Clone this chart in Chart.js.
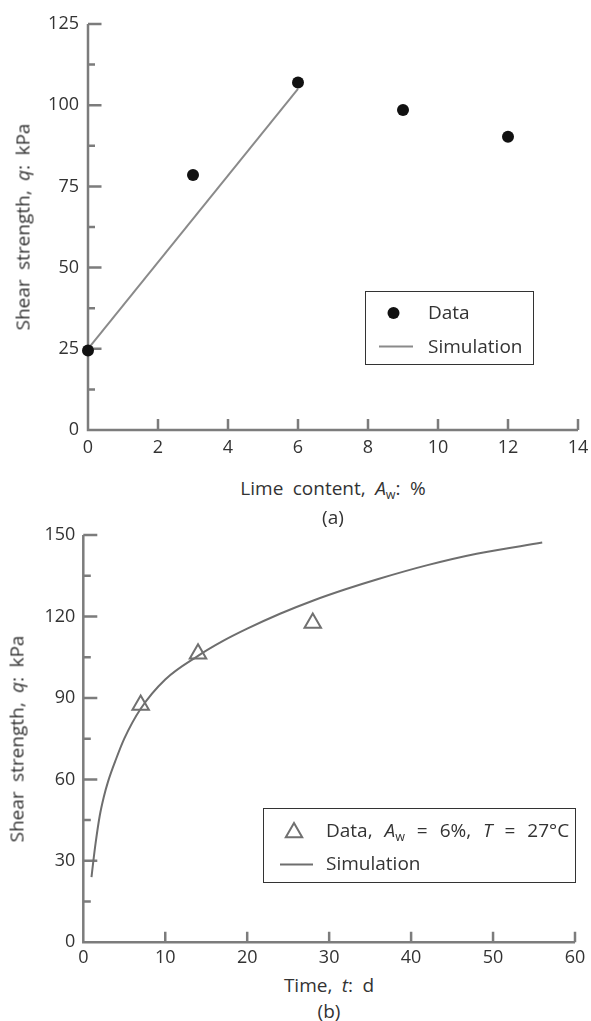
<!DOCTYPE html>
<html><head><meta charset="utf-8">
<script src="https://cdn.jsdelivr.net/npm/chart.js@4.4.1/dist/chart.umd.min.js"></script>
<style>
html,body{margin:0;padding:0;background:#fff;}
body{width:591px;height:1021px;position:relative;overflow:hidden;font-family:"Open Sans",sans-serif;color:#333;}
.cv{position:absolute;left:0;width:591px;}
.t{position:absolute;font-size:19px;line-height:1;white-space:nowrap;transform:translate(-50%,-50%);word-spacing:4.5px;}
.yt{transform:translate(-50%,-50%) rotate(-90deg);}
sub{font-size:0.66em;vertical-align:-0.32em;line-height:0;}
.leg{position:absolute;border:1.5px solid #333;box-sizing:border-box;}
.li{position:absolute;font-size:19px;line-height:1;transform:translateY(-50%);white-space:nowrap;}
svg.sw{position:absolute;left:0;top:0;pointer-events:none;}
</style></head>
<body>
<div class="cv" style="top:0;height:460px"><canvas id="ca"></canvas></div>
<div class="cv" style="top:520px;height:450px"><canvas id="cb"></canvas></div>

<div class="t yt" style="left:23px;top:227px">Shear strength, <i>q</i>: kPa</div>
<div class="t" style="left:333px;top:488px">Lime content, <i>A</i><sub>w</sub>: %</div>
<div class="t" style="left:333px;top:517px">(a)</div>

<div class="t yt" style="left:17px;top:739px">Shear strength, <i>q</i>: kPa</div>
<div class="t" style="left:329px;top:985px">Time, <i>t</i>: d</div>
<div class="t" style="left:329px;top:1011px">(b)</div>

<div class="leg" style="left:365px;top:291px;width:169px;height:74px"></div>
<div class="li" style="left:428px;top:312px">Data</div>
<div class="li" style="left:428px;top:346px">Simulation</div>

<div class="leg" style="left:263px;top:808px;width:313px;height:75px"></div>
<div class="li" style="left:326px;top:830px;word-spacing:7px">Data, <i>A</i><sub>w</sub> = 6%, <i>T</i> = 27°C</div>
<div class="li" style="left:326px;top:863px">Simulation</div>

<svg class="sw" width="591" height="1021">
  <circle cx="393.5" cy="313" r="6" fill="#111"/>
  <line x1="379" y1="346.5" x2="413" y2="346.5" stroke="#8a8a8a" stroke-width="2"/>
  <polygon points="294,823 302.2,837.2 285.8,837.2" fill="#fff" stroke="#707070" stroke-width="2"/>
  <line x1="280" y1="864.5" x2="313" y2="864.5" stroke="#6e6e6e" stroke-width="2"/>
</svg>

<script>
// ---- data (a) ----
const limeContent = [0, 3, 6, 9, 12];
const strengthA = [24.5, 78.5, 107, 98.5, 90.3];
const simLimeContent = [0, 6];
const simStrengthA = [25, 105];
const xTicksA = [0, 2, 4, 6, 8, 10, 12, 14];
const yTicksA = [0, 25, 50, 75, 100, 125];

// ---- data (b) ----
const timeDays = [7, 14, 28];
const strengthB = [87.4, 106.3, 117.6];
const simTime = [1, 1.25, 1.5, 2, 2.5, 3, 4, 5, 7, 10, 14, 17, 20, 24, 28, 32, 36, 42, 48, 56];
const simStrengthB = [24, 30.5, 36.5, 46.5, 53.5, 59, 67.5, 75, 86, 96.8, 105.5, 110.9, 115.5, 121, 125.8, 130, 133.8, 138.9, 143.1, 147.2];
const xTicksB = [0, 10, 20, 30, 40, 50, 60];
const yTicksB = [0, 30, 60, 90, 120, 150];

const tickFont = {family: '"Open Sans", sans-serif', size: 18};
const textColor = '#333';

const axesDeco = {
  id: 'axesDeco',
  beforeDatasetsDraw(chart, args, o) {
    const {ctx, chartArea: {left, right, top, bottom}} = chart;
    const xs = chart.scales.x, ys = chart.scales.y;
    const yv = ys.ticks.map(t => t.value);
    const xv = xs.ticks.map(t => t.value);
    ctx.save();
    ctx.strokeStyle = '#7c7c7c';
    ctx.lineWidth = 2.5;
    ctx.lineJoin = 'miter';
    ctx.beginPath();
    ctx.moveTo(left, top); ctx.lineTo(left, bottom); ctx.lineTo(right, bottom);
    yv.forEach(v => { if (v === ys.min) return; const p = ys.getPixelForValue(v); ctx.moveTo(left, p); ctx.lineTo(left + o.major, p); });
    for (let i = 0; i < yv.length - 1; i++) {
      const p = ys.getPixelForValue((yv[i] + yv[i + 1]) / 2);
      ctx.moveTo(left, p); ctx.lineTo(left + o.minor, p);
    }
    xv.forEach(v => { if (v === xs.min) return; const p = xs.getPixelForValue(v); ctx.moveTo(p, bottom); ctx.lineTo(p, bottom - o.xlen); });
    ctx.stroke();
    ctx.restore();
  }
};

function makeScales(xmin, xmax, xt, ymin, ymax, yt, yWidth, xHeight, xpad, ypad) {
  return {
    x: {
      type: 'linear', min: xmin, max: xmax,
      afterBuildTicks: s => { s.ticks = xt.map(v => ({value: v})); },
      ticks: {font: tickFont, color: textColor, padding: xpad, maxRotation: 0, autoSkip: false},
      grid: {display: false, drawTicks: false}, border: {display: false},
      afterFit: s => { s.height = xHeight; s.paddingLeft = 0; s.paddingRight = 0; }
    },
    y: {
      type: 'linear', min: ymin, max: ymax,
      afterBuildTicks: s => { s.ticks = yt.map(v => ({value: v})); },
      ticks: {font: tickFont, color: textColor, padding: ypad, autoSkip: false},
      grid: {display: false, drawTicks: false}, border: {display: false},
      afterFit: s => { s.width = yWidth; s.paddingTop = 0; s.paddingBottom = 0; }
    }
  };
}

new Chart(document.getElementById('ca'), {
  type: 'scatter',
  data: {
    datasets: [
      {label: 'Simulation', data: simLimeContent.map((x, i) => ({x, y: simStrengthA[i]})), showLine: true,
       borderColor: '#8a8a8a', borderWidth: 2, pointRadius: 0, clip: false, order: 2},
      {label: 'Data', data: limeContent.map((x, i) => ({x, y: strengthA[i]})), showLine: false,
       pointStyle: 'circle', pointRadius: 6, backgroundColor: '#111', borderColor: '#111', borderWidth: 0, clip: false, order: 1}
    ]
  },
  options: {
    responsive: true, maintainAspectRatio: false, animation: false,
    layout: {padding: {left: 0, right: 13, top: 24, bottom: 0}},
    plugins: {legend: {display: false}, tooltip: {enabled: false}, axesDeco: {major: 13.5, minor: 7, xlen: 11}},
    scales: makeScales(0, 14, xTicksA, 0, 125, yTicksA, 88, 30, 7, 9)
  },
  plugins: [axesDeco]
});

new Chart(document.getElementById('cb'), {
  type: 'scatter',
  data: {
    datasets: [
      {label: 'Simulation', data: simTime.map((x, i) => ({x, y: simStrengthB[i]})), showLine: true,
       cubicInterpolationMode: 'monotone', borderColor: '#6e6e6e', borderWidth: 2, pointRadius: 0, clip: false, order: 2},
      {label: 'Data, Aw = 6%, T = 27°C', data: timeDays.map((x, i) => ({x, y: strengthB[i]})), showLine: false,
       pointStyle: 'triangle', pointRadius: 9.5, backgroundColor: 'rgba(255,255,255,0)', borderColor: '#707070', borderWidth: 2, clip: false, order: 1}
    ]
  },
  options: {
    responsive: true, maintainAspectRatio: false, animation: false,
    layout: {padding: {left: 0, right: 16, top: 15, bottom: 0}},
    plugins: {legend: {display: false}, tooltip: {enabled: false}, axesDeco: {major: 14, minor: 7.5, xlen: 10.5}},
    scales: makeScales(0, 60, xTicksB, 0, 150, yTicksB, 83.3, 27.7, 5, 8)
  },
  plugins: [axesDeco]
});
</script>
</body></html>
